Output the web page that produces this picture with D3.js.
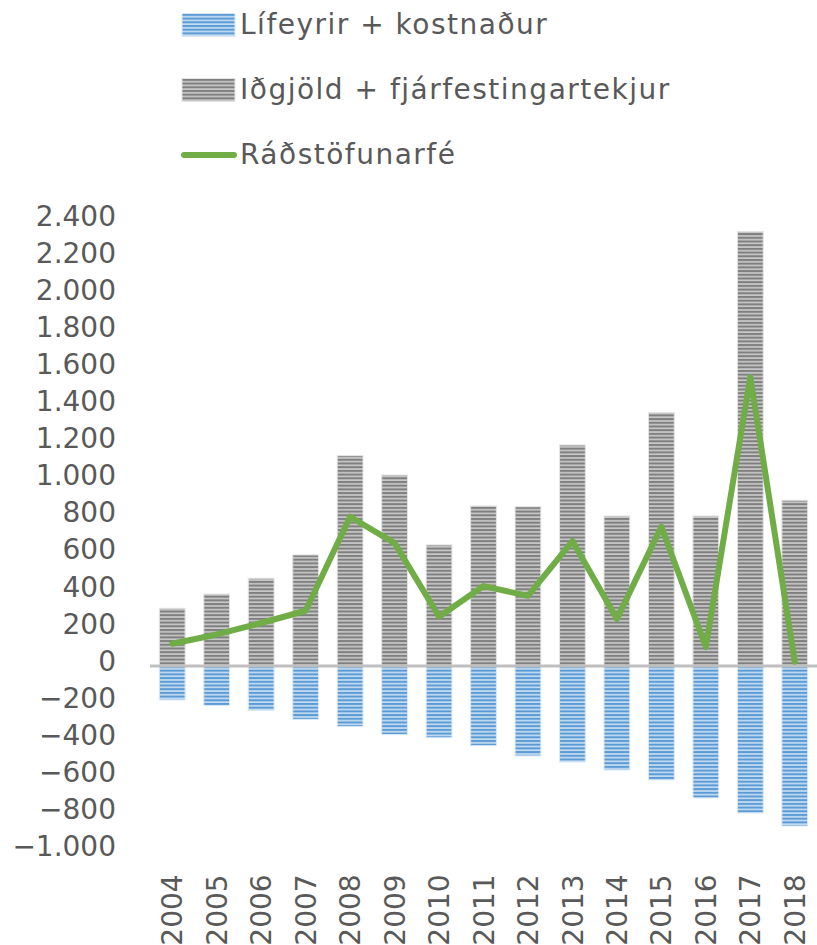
<!DOCTYPE html>
<html>
<head>
<meta charset="utf-8">
<script src="https://cdn.jsdelivr.net/npm/d3@7"></script>
<style>
  body { margin: 0; background: #fff; }
  svg text { font-family: "DejaVu Sans", sans-serif; fill: #595959; }
</style>
</head>
<body>
<div id="chart"></div>
<script>
const years = ["2004","2005","2006","2007","2008","2009","2010","2011","2012","2013","2014","2015","2016","2017","2018"];
const income = [311, 388, 473, 599, 1134, 1030, 653, 863, 859, 1192, 809, 1366, 809, 2343, 894];
const expenses = [-183, -214, -239, -288, -327, -370, -387, -430, -485, -518, -561, -615, -712, -793, -863];
const available = [120, 170, 232, 298, 805, 663, 266, 431, 378, 674, 254, 751, 102, 1559, 23];
const yTicks = [-1000, -800, -600, -400, -200, 0, 200, 400, 600, 800, 1000, 1200, 1400, 1600, 1800, 2000, 2200, 2400];
const seriesNames = ["Lífeyrir + kostnaður", "Iðgjöld + fjárfestingartekjur", "Ráðstöfunarfé"];

const width = 817, height = 945;

const svg = d3.select("#chart")
  .append("svg")
  .attr("width", width)
  .attr("height", height);

const defs = svg.append("defs");

// striped fills
const stripe = (id, dark, light) => {
  const p = defs.append("pattern")
    .attr("id", id)
    .attr("patternUnits", "userSpaceOnUse")
    .attr("width", 8)
    .attr("height", 3.7);
  p.append("rect").attr("width", 8).attr("height", 3.7).attr("fill", light);
  p.append("rect").attr("width", 8).attr("height", 2).attr("fill", dark);
};
stripe("blueStripe", "#5b9bd5", "#c5dcf1");
stripe("grayStripe", "#7f7f7f", "#c8c8c8");

const locale = d3.formatLocale({
  decimal: ",", thousands: ".", grouping: [3], currency: ["", ""], minus: "\u2212"
});
const fmt = locale.format(",d");

// scales
const xScale = d3.scaleBand()
  .domain(years)
  .range([150, 817])
  .paddingInner(0.42)
  .paddingOuter(0.21);

const yScale = d3.scaleLinear()
  .domain([-1000, 2400])
  .range([851.4, 221]);

// y axis
const yAxis = svg.append("g")
  .attr("transform", "translate(150, 0)")
  .call(d3.axisLeft(yScale).tickValues(yTicks).tickFormat(fmt).tickSize(0).tickPadding(34));
yAxis.select(".domain").remove();
yAxis.selectAll("text")
  .attr("dy", "0.15em")
  .style("font-size", "28px")
  .style("font-family", "DejaVu Sans, sans-serif")
  .attr("fill", "#595959");

// bars
svg.append("g").selectAll("rect")
  .data(years)
  .join("rect")
  .attr("x", d => xScale(d))
  .attr("y", (d, i) => yScale(income[i]))
  .attr("width", xScale.bandwidth())
  .attr("height", (d, i) => yScale(0) - yScale(income[i]))
  .attr("fill", "url(#grayStripe)")
  .attr("stroke", "#e4e4e4")
  .attr("stroke-width", 1);

svg.append("g").selectAll("rect")
  .data(years)
  .join("rect")
  .attr("x", d => xScale(d))
  .attr("y", yScale(0))
  .attr("width", xScale.bandwidth())
  .attr("height", (d, i) => yScale(expenses[i]) - yScale(0))
  .attr("fill", "url(#blueStripe)")
  .attr("stroke", "#dbe9f6")
  .attr("stroke-width", 1);

// zero line
svg.append("line")
  .attr("x1", 150)
  .attr("x2", 817)
  .attr("y1", yScale(0))
  .attr("y2", yScale(0))
  .attr("stroke", "#bfbfbf")
  .attr("stroke-width", 3);

// line
const line = d3.line()
  .x((d, i) => xScale(years[i]) + xScale.bandwidth() / 2)
  .y(d => yScale(d));

svg.append("path")
  .datum(available)
  .attr("d", line)
  .attr("fill", "none")
  .attr("stroke", "#70ad47")
  .attr("stroke-width", 6)
  .attr("stroke-linejoin", "round")
  .attr("stroke-linecap", "round");

// x axis
const xAxis = svg.append("g")
  .attr("transform", `translate(0, ${yScale(-1000)})`)
  .call(d3.axisBottom(xScale).tickSize(0));
xAxis.select(".domain").remove();
xAxis.selectAll("text")
  .attr("transform", "rotate(-90)")
  .attr("text-anchor", "end")
  .attr("x", -23)
  .attr("y", 0)
  .attr("dy", "0.36em")
  .style("font-size", "28px")
  .style("font-family", "DejaVu Sans, sans-serif")
  .attr("fill", "#595959");

// legend
const legend = svg.append("g")
  .attr("transform", "translate(182, 0)");

seriesNames.forEach((name, i) => {
  const row = legend.append("g")
    .attr("transform", `translate(0, ${25 + i * 65})`);

  if (i < 2) {
    row.append("rect")
      .attr("y", -11.5)
      .attr("width", 53)
      .attr("height", 23)
      .attr("fill", i === 0 ? "url(#blueStripe)" : "url(#grayStripe)")
      .attr("stroke", i === 0 ? "#dbe9f6" : "#e4e4e4");
  } else {
    row.append("line")
      .attr("x1", 2)
      .attr("x2", 52)
      .attr("stroke", "#70ad47")
      .attr("stroke-width", 6)
      .attr("stroke-linecap", "round");
  }

  row.append("text")
    .attr("x", 58)
    .attr("y", 9)
    .style("font-size", "28px")
    .style("letter-spacing", "1.5px")
    .text(name);
});
</script>
</body>
</html>
